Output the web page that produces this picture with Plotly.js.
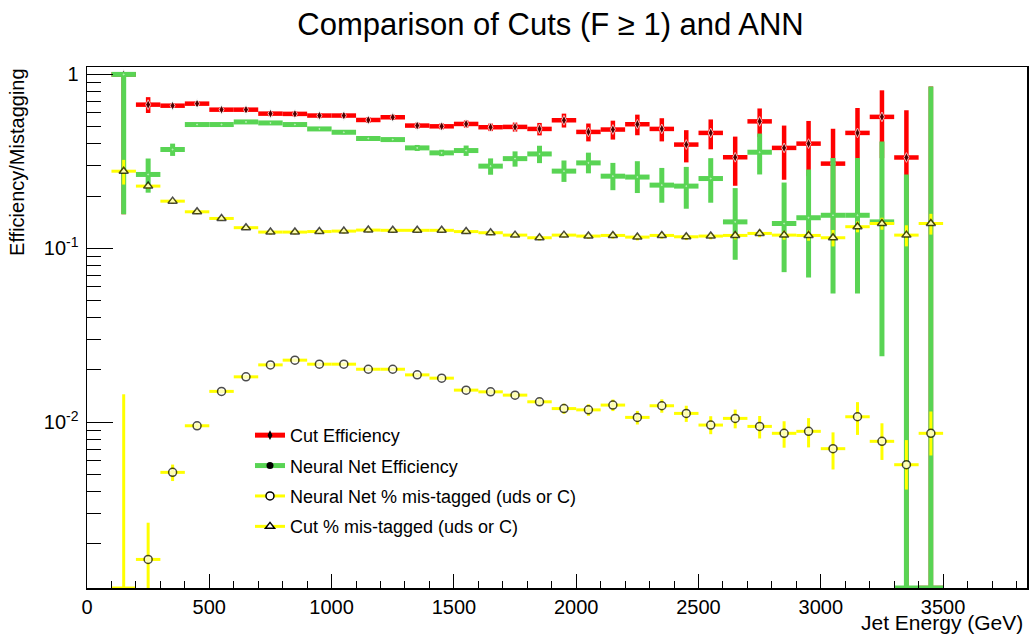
<!DOCTYPE html>
<html><head><meta charset="utf-8">
<script src="https://cdn.plot.ly/plotly-3.0.1.min.js"></script>
<style>html,body{margin:0;padding:0;background:#fff}#chart{width:1029px;height:636px}</style>
</head><body><div id="chart"></div>
<script>
// Bin centres (GeV), bin width 100 GeV
const energy = [150,250,350,450,550,650,750,850,950,1050,1150,1250,1350,1450,1550,1650,1750,1850,1950,2050,2150,2250,2350,2450,2550,2650,2750,2850,2950,3050,3150,3250,3350,3450];

// Cut efficiency
const cutEff        = [1.0,0.670,0.661,0.679,0.627,0.627,0.595,0.593,0.580,0.580,0.547,0.567,0.508,0.503,0.519,0.497,0.499,0.486,0.545,0.467,0.482,0.517,0.486,0.395,0.461,0.334,0.537,0.378,0.400,0.307,0.461,0.570,0.333,0];
const cutEffErrUp   = [0,0.07,0.02,0.02,0.02,0.02,0.02,0.02,0.02,0.02,0.02,0.02,0.02,0.02,0.025,0.025,0.03,0.04,0.05,0.055,0.06,0.07,0.074,0.083,0.09,0.105,0.10,0.13,0.14,0.18,0.18,0.24,0.29,0.853];
const cutEffErrDown = [0.843,0.07,0.02,0.02,0.02,0.02,0.02,0.02,0.02,0.02,0.02,0.02,0.02,0.02,0.025,0.025,0.03,0.04,0.05,0.055,0.06,0.07,0.074,0.083,0.09,0.105,0.10,0.13,0.14,0.18,0.18,0.24,0.333,0];

// Neural net efficiency
const annEff        = [1.0,0.266,0.370,0.515,0.515,0.533,0.526,0.515,0.486,0.465,0.428,0.422,0.378,0.354,0.365,0.297,0.328,0.349,0.278,0.310,0.260,0.257,0.231,0.228,0.252,0.142,0.357,0.139,0.150,0.155,0.155,0.142,0,0];
const annEffErrUp   = [0,0.0625,0.03,0.012,0.012,0.012,0.012,0.012,0.012,0.012,0.012,0.012,0.015,0.015,0.025,0.032,0.033,0.04,0.042,0.045,0.05,0.06,0.059,0.066,0.078,0.08,0.10,0.10,0.134,0.176,0.176,0.27,0.266,0.853];
const annEffErrDown = [0.843,0.057,0.03,0.012,0.012,0.012,0.012,0.012,0.012,0.012,0.012,0.012,0.015,0.015,0.025,0.032,0.033,0.04,0.037,0.04,0.044,0.049,0.048,0.059,0.069,0.056,0.091,0.066,0.082,0.10,0.10,0.118,0,0];

// Neural net % mis-tagged (uds or C)
const annMis        = [0,0.00163,0.00516,0.00956,0.01507,0.01827,0.0214,0.02278,0.0216,0.0216,0.0202,0.0202,0.01875,0.01795,0.01532,0.01498,0.01434,0.01313,0.0120,0.0118,0.01257,0.01068,0.01246,0.01126,0.00965,0.01054,0.00948,0.00865,0.00888,0.00706,0.01077,0.00778,0.00571,0.00865];
const annMisErrUp   = [0.0145,0.00102,0.00056,0.0004,0.0004,0.0004,0.0004,0.0004,0.0004,0.0004,0.0004,0.0004,0.0005,0.0005,0.0005,0.0005,0.0006,0.0006,0.0008,0.0009,0.00096,0.00096,0.0011,0.0012,0.0012,0.0013,0.0014,0.0015,0.0017,0.0017,0.0023,0.0021,0.0022,0.0029];
const annMisErrDown = [0,0.00102,0.00056,0.0004,0.0004,0.0004,0.0004,0.0004,0.0004,0.0004,0.0004,0.0004,0.0005,0.0005,0.0005,0.0005,0.0006,0.0006,0.0008,0.0009,0.00096,0.00096,0.0011,0.0012,0.0011,0.0013,0.0014,0.0015,0.0017,0.0017,0.0023,0.0017,0.0016,0.0022];

// Cut % mis-tagged (uds or C)
const cutMis        = [0.2777,0.228,0.1868,0.1623,0.1486,0.1315,0.1241,0.1241,0.1249,0.1257,0.1274,0.127,0.127,0.127,0.1249,0.123,0.1192,0.1151,0.1192,0.1177,0.1187,0.1161,0.1187,0.1166,0.1177,0.1187,0.1219,0.1192,0.1187,0.1151,0.1332,0.139,0.1192,0.139];
const cutMisErr     = [0.045,0.008,0.006,0.005,0.004,0.004,0.004,0.004,0.004,0.004,0.004,0.004,0.004,0.004,0.004,0.004,0.004,0.004,0.004,0.004,0.005,0.005,0.005,0.005,0.005,0.006,0.006,0.007,0.008,0.0125,0.0095,0.011,0.0165,0.019];

const seriesNames = ['Cut Efficiency','Neural Net Efficiency','Neural Net % mis-tagged (uds or C)','Cut % mis-tagged (uds or C)'];
const xTickVals = [0,500,1000,1500,2000,2500,3000,3500];
const yTickVals = [0.01,0.1,1];
const yTickText = ['10<sup>-2</sup>','10<sup>-1</sup>','1'];
const yMinorVals = [0.002,0.003,0.004,0.005,0.006,0.007,0.008,0.009,0.02,0.03,0.04,0.05,0.06,0.07,0.08,0.09,0.2,0.3,0.4,0.5,0.6,0.7,0.8,0.9];

const BIN_HALF = 50;
const Y_RANGE = [-2.952, 0.0425];
const FLOOR = Math.pow(10, Y_RANGE[0]);   // zero values are drawn at the frame bottom, as ROOT does

const RED = '#ff0000', GREEN = '#59d454', YELLOW = '#ffff00';
const FONT = '"Liberation Sans", Arial, Helvetica, sans-serif';

function build(vals, up, down) {
  const y = [], eu = [], ed = [];
  vals.forEach((v, i) => {
    const yy = v > 0 ? v : FLOOR;
    y.push(yy);
    eu.push(v + up[i] - yy);
    ed.push(v > 0 ? down[i] : 0);
  });
  return {y, eu, ed};
}

function series(name, vals, up, down, color, thick, marker, group) {
  const d = build(vals, up, down);
  const m = Object.assign({}, marker, {size: vals.map(v => v > 0 ? marker.size : 0)});
  return {
    type: 'scatter', mode: 'markers', name: name, x: energy, y: d.y,
    showlegend: false, legendgroup: group, cliponaxis: true,
    marker: m,
    error_x: {type: 'constant', value: BIN_HALF, thickness: thick, width: 0, color: color},
    error_y: {type: 'data', symmetric: false, array: d.eu, arrayminus: d.ed, thickness: thick, width: 0, color: color},
    hoverinfo: 'x+y'
  };
}

function legendEntry(name, color, thick, marker, group) {
  return {type: 'scatter', mode: 'lines+markers', name: name, x: [null], y: [null],
    legendgroup: group, showlegend: true, line: {color: color, width: thick}, marker: marker, hoverinfo: 'skip'};
}

const mRed = {symbol: 'diamond-tall', size: 7, color: '#000'};
const mGreenPlot = {symbol: 'circle', size: 1, color: 'rgba(0,0,0,0)'};
const mGreenLeg = {symbol: 'circle', size: 7, color: '#000'};
const mCirc = {symbol: 'circle', size: 8, color: '#fff', line: {width: 1.5, color: '#000'}};
const mTri = {symbol: 'triangle-up', size: 8, color: '#fff', line: {width: 1.5, color: '#000'}};

const data = [
  series(seriesNames[0], cutEff, cutEffErrUp, cutEffErrDown, RED, 4.5, mRed, 'g1'),
  series(seriesNames[1], annEff, annEffErrUp, annEffErrDown, GREEN, 5, mGreenPlot, 'g2'),
  series(seriesNames[2], annMis, annMisErrUp, annMisErrDown, YELLOW, 3, mCirc, 'g3'),
  series(seriesNames[3], cutMis, cutMisErr, cutMisErr, YELLOW, 3, mTri, 'g4'),
  legendEntry(seriesNames[0], RED, 5, mRed, 'g1'),
  legendEntry(seriesNames[1], GREEN, 5, mGreenLeg, 'g2'),
  legendEntry(seriesNames[2], YELLOW, 3, mCirc, 'g3'),
  legendEntry(seriesNames[3], YELLOW, 3, mTri, 'g4')
];

const layout = {
  width: 1029, height: 636,
  margin: {l: 87, r: 2, t: 67, b: 48, pad: 0},
  paper_bgcolor: '#fff', plot_bgcolor: '#fff',
  font: {family: FONT, color: '#000', size: 18},
  title: {text: 'Comparison of Cuts (F \u2265 1) and ANN', font: {family: FONT, size: 31, color: '#000'},
    x: 0.535, xref: 'container', xanchor: 'center', y: 0.962, yref: 'container', yanchor: 'middle'},
  xaxis: {
    range: [0, 3843], tickmode: 'array', tickvals: xTickVals,
    ticks: 'inside', ticklen: 14, tickwidth: 1, tickcolor: '#000',
    minor: {tickmode: 'linear', tick0: 0, dtick: 100, ticks: 'inside', ticklen: 7, tickwidth: 1, tickcolor: '#000'},
    showline: true, linecolor: '#000', linewidth: 1.5, mirror: true,
    showgrid: false, zeroline: false, tickfont: {size: 20, family: FONT}
  },
  yaxis: {
    type: 'log', range: Y_RANGE, tickmode: 'array', tickvals: yTickVals, ticktext: yTickText,
    ticks: 'inside', ticklen: 26, tickwidth: 1, tickcolor: '#000',
    minor: {tickmode: 'array', tickvals: yMinorVals, ticks: 'inside', ticklen: 14, tickwidth: 1, tickcolor: '#000'},
    showline: true, linecolor: '#000', linewidth: 1.5, mirror: true,
    showgrid: false, zeroline: false, tickfont: {size: 20, family: FONT}, ticklabelstandoff: 3
  },
  legend: {x: 0.1734, y: 0.3283, xanchor: 'left', yanchor: 'top', bgcolor: 'rgba(0,0,0,0)',
    borderwidth: 0, font: {size: 18, family: FONT}, tracegroupgap: 4, traceorder: 'grouped'},
  annotations: [
    {text: 'Jet Energy (GeV)', xref: 'paper', yref: 'paper', x: 0.9979, y: -0.0921, xanchor: 'right', yanchor: 'bottom',
      showarrow: false, font: {size: 21, family: FONT}},
    {text: 'Efficiency/Mistagging', xref: 'paper', yref: 'paper', x: -0.0745, y: 1.002, xanchor: 'center', yanchor: 'top',
      textangle: -90, showarrow: false, font: {size: 20, family: FONT}}
  ],
  showlegend: true
};

Plotly.newPlot('chart', data, layout, {staticPlot: true, displayModeBar: false});
</script>
</body></html>
